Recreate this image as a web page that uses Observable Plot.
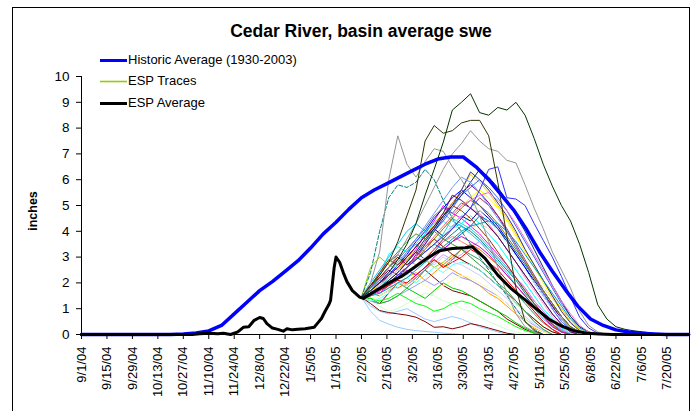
<!DOCTYPE html>
<html><head><meta charset="utf-8">
<script src="https://cdn.jsdelivr.net/npm/d3@7"></script>
<script src="https://cdn.jsdelivr.net/npm/@observablehq/plot@0.6"></script>
<style>
html,body{margin:0;padding:0;background:#fff;overflow:hidden;}
#wrap{position:relative;width:699px;height:411px;font-family:"Liberation Sans",Arial,sans-serif;color:#000;overflow:hidden;}
#border{position:absolute;left:12px;top:7px;width:678px;height:430px;border:1px solid #000;box-sizing:border-box;}
#chart{position:absolute;left:0;top:0;}
#title{position:absolute;left:0;top:21px;width:722px;text-align:center;font-weight:bold;font-size:17.5px;line-height:20px;}
.leg{position:absolute;left:100px;height:16px;font-size:13px;line-height:16px;white-space:nowrap;}
.leg svg{display:inline-block;vertical-align:top;margin-right:1px;}
#ylab{position:absolute;left:33px;top:211px;transform:translate(-50%,-50%) rotate(-90deg);font-weight:bold;font-size:12.5px;white-space:nowrap;}
</style></head>
<body>
<div id="wrap">
  <div id="border"></div>
  <div id="chart"></div>
  <div id="title">Cedar River, basin average swe</div>
  <div class="leg" style="top:52px"><svg width="27" height="16"><line x1="0" x2="27" y1="8.5" y2="8.5" stroke="#0000FF" stroke-width="3"/></svg>Historic Average (1930-2003)</div>
  <div class="leg" style="top:73px"><svg width="27" height="16"><line x1="0" x2="27" y1="8.5" y2="8.5" stroke="#99CC00" stroke-width="1.6"/></svg>ESP Traces</div>
  <div class="leg" style="top:95px"><svg width="27" height="16"><line x1="0" x2="27" y1="8.5" y2="8.5" stroke="#000000" stroke-width="3"/></svg>ESP Average</div>
  <div id="ylab">inches</div>
</div>
<script>
// ---- axis tick labels ----
const xTickLabels = ["9/1/04","9/15/04","9/29/04","10/13/04","10/27/04","11/10/04","11/24/04","12/8/04","12/22/04","1/5/05","1/19/05","2/2/05","2/16/05","3/2/05","3/16/05","3/30/05","4/13/05","4/27/05","5/11/05","5/25/05","6/8/05","6/22/05","7/6/05","7/20/05"];
const yTicks = [0,1,2,3,4,5,6,7,8,9,10];

// ---- Historic average (1930-2003) ----
const histDates = ["9/1/04","10/20/04","10/27/04","11/3/04","11/10/04","11/17/04","11/24/04","12/1/04","12/8/04","12/15/04","12/22/04","12/29/04","1/5/05","1/12/05","1/19/05","1/26/05","2/2/05","2/9/05","2/16/05","2/23/05","3/2/05","3/9/05","3/16/05","3/23/05","3/30/05","4/6/05","4/13/05","4/20/05","4/27/05","5/4/05","5/11/05","5/18/05","5/25/05","6/1/05","6/8/05","6/15/05","6/22/05","6/29/05","7/6/05","7/13/05","7/20/05","8/1/05"];
const histValues = [0,0,0.02,0.06,0.14,0.35,0.8,1.25,1.7,2.05,2.45,2.85,3.35,3.9,4.35,4.85,5.3,5.6,5.85,6.1,6.35,6.6,6.8,6.88,6.88,6.5,6.0,5.4,4.8,4.05,3.2,2.45,1.75,1.1,0.6,0.35,0.18,0.1,0.05,0.02,0,0];

// ---- ESP average (observed through 2/2, then mean of traces) ----
const avgDates = ["9/1/04","11/1/04","11/5/04","11/10/04","11/15/04","11/18/04","11/22/04","11/26/04","11/29/04","12/2/04","12/5/04","12/8/04","12/10/04","12/12/04","12/15/04","12/18/04","12/21/04","12/23/04","12/26/04","12/29/04","1/2/05","1/7/05","1/9/05","1/11/05","1/13/05","1/15/05","1/16/05","1/18/05","1/19/05","1/21/05","1/23/05","1/25/05","1/28/05","2/1/05","2/3/05","2/10/05","2/17/05","2/24/05","3/3/05","3/10/05","3/17/05","3/24/05","3/31/05","4/4/05","4/11/05","4/18/05","4/25/05","5/2/05","5/9/05","5/16/05","5/23/05","5/30/05","6/6/05","6/13/05","6/20/05","8/1/05"];
const avgValues = [0,0,0.03,0.05,0.03,0.05,0,0.1,0.28,0.3,0.55,0.66,0.62,0.42,0.25,0.2,0.13,0.22,0.18,0.2,0.22,0.28,0.45,0.62,0.9,1.15,1.32,2.6,3.0,2.8,2.4,2.05,1.7,1.45,1.4,1.7,2.0,2.25,2.6,2.95,3.25,3.33,3.36,3.4,2.95,2.3,1.8,1.4,1.0,0.6,0.33,0.14,0.05,0.02,0,0];

// ---- ESP traces, sampled every 5 days from 2/2/05 ----
const espDates = ["2/2/05","2/7/05","2/12/05","2/17/05","2/22/05","2/27/05","3/4/05","3/9/05","3/14/05","3/19/05","3/24/05","3/29/05","4/3/05","4/8/05","4/13/05","4/18/05","4/23/05","4/28/05","5/3/05","5/8/05","5/13/05","5/18/05","5/23/05","5/28/05","6/2/05","6/7/05","6/12/05","6/17/05","6/22/05","6/27/05","7/2/05","7/7/05","7/12/05","7/17/05"];
const traceValues = [
 [1.45,2.6,3.0,2.7,2.5,2.9,3.2,2.9,2.6,2.8,3.1,2.9,2.7,2.5,2.2,1.9,1.6,1.2,0.9,0.6,0.3,0.1,0],
 [1.45,1.6,1.9,2.3,2.6,3.0,3.4,3.8,4.1,3.8,4.2,4.6,4.4,4.8,4.5,4.1,3.6,3.1,2.6,2.1,1.6,1.1,0.6,0.25,0.05,0],
 [1.45,1.8,2.4,2.8,3.1,2.8,3.3,3.9,4.4,5.0,4.7,4.5,4.2,3.9,3.5,3.1,2.7,2.2,1.8,1.3,0.9,0.5,0.2,0],
 [1.45,1.5,1.7,1.9,2.2,2.6,3.0,3.4,3.8,4.2,4.6,5.0,5.3,5.6,5.3,4.9,4.4,3.8,3.2,2.6,2.0,1.4,0.9,0.45,0.15,0],
 [1.45,1.9,2.3,3.1,3.4,3.2,3.5,3.9,4.1,4.4,4.1,4.3,4.6,4.3,3.9,3.5,3.0,2.5,2.0,1.5,1.0,0.6,0.25,0.05,0],
 [1.45,1.7,2.1,2.5,2.3,2.6,3.1,3.6,4.1,4.6,5.1,5.5,5.8,5.5,5.1,4.6,4.0,3.4,2.8,2.2,1.6,1.1,0.6,0.25,0.05,0],
 [1.45,1.3,1.2,1.6,2.0,1.9,2.2,2.5,2.2,1.9,1.7,1.6,1.5,1.3,1.1,0.9,0.6,0.4,0.2,0.05,0],
 [1.45,1.6,1.8,2.0,2.3,2.6,3.0,2.8,3.2,3.6,3.9,4.2,4.0,3.7,3.3,2.9,2.5,2.1,1.6,1.2,0.8,0.4,0.15,0],
 [1.45,1.7,2.0,2.3,2.7,3.1,3.6,4.0,4.5,4.9,5.3,5.6,5.3,5.0,4.6,4.2,3.7,3.1,2.6,2.0,1.5,1.0,0.5,0.2,0],
 [1.45,2.0,2.5,3.0,3.5,4.0,4.3,4.0,4.3,4.7,4.4,4.2,3.9,3.6,3.2,2.8,2.4,1.9,1.5,1.0,0.6,0.3,0.1,0],
 [1.45,1.3,1.1,0.9,1.0,1.2,1.4,1.6,1.5,1.3,1.2,1.0,0.9,0.7,0.5,0.35,0.2,0.1,0],
 [1.45,0.9,0.55,0.4,0.28,0.2,0.15,0.12,0.09,0.05,0.03,0],
 [1.45,1.6,1.9,2.2,2.5,2.8,3.2,3.6,3.3,3.7,4.1,4.5,4.9,4.7,4.3,3.8,3.3,2.8,2.2,1.7,1.2,0.7,0.3,0.1,0],
 [1.45,1.5,1.7,1.9,2.1,1.9,2.2,2.5,2.8,3.1,2.9,3.1,3.4,3.6,3.3,3.0,2.6,2.2,1.8,1.3,0.9,0.5,0.2,0],
 [1.45,1.6,1.8,2.1,2.4,2.7,3.0,3.3,3.6,3.4,3.7,3.9,4.1,4.3,4.1,3.9,3.6,3.2,2.8,2.3,1.8,1.4,1.0,0.6,0.3,0.1,0],
 [1.45,1.8,2.1,1.9,2.3,2.6,3.0,3.5,4.0,4.4,4.9,5.4,5.7,6.0,5.7,5.3,4.8,4.2,3.6,3.0,2.4,1.8,1.2,0.7,0.3,0.1,0],
 [1.45,1.6,1.8,2.2,2.7,3.2,3.5,3.2,3.5,3.9,4.5,4.3,4.1,3.8,3.4,3.0,2.6,2.1,1.7,1.2,0.8,0.4,0.15,0],
 [1.45,1.7,1.9,2.2,2.5,2.9,3.4,3.8,4.3,4.7,5.1,5.6,6.2,5.9,5.5,5.0,4.5,3.9,3.3,2.7,2.1,1.5,1.0,0.5,0.2,0],
 [1.45,1.5,1.6,1.8,2.0,2.2,2.4,2.1,2.4,2.7,2.5,2.3,2.1,1.9,1.6,1.4,1.1,0.8,0.5,0.25,0.1,0],
 [1.45,1.8,2.2,2.6,2.9,3.3,3.7,4.1,4.6,4.9,4.7,5.1,4.9,4.6,4.2,3.8,3.3,2.8,2.3,1.8,1.3,0.8,0.4,0.1,0],
 [1.45,1.6,1.5,1.7,2.0,1.8,2.1,2.5,2.9,2.6,2.9,3.3,3.1,2.9,2.6,2.3,2.0,1.6,1.2,0.8,0.45,0.2,0],
 [1.45,1.9,2.4,2.9,2.7,3.0,3.4,3.8,4.2,4.6,5.0,4.8,4.5,4.1,3.7,3.2,2.7,2.2,1.7,1.2,0.8,0.4,0.1,0],
 [1.45,1.6,1.8,2.1,2.4,2.8,3.2,2.9,3.3,3.7,4.1,4.5,4.9,5.3,5.0,4.6,4.1,3.5,2.9,2.3,1.7,1.2,0.7,0.3,0.1,0],
 [1.45,1.5,1.7,1.9,2.2,2.6,3.0,3.5,4.0,4.5,5.0,5.6,6.3,6.0,5.6,5.1,4.6,4.0,3.3,2.7,2.1,1.5,0.9,0.45,0.15,0],
 [1.45,1.3,1.2,1.3,1.5,1.7,1.9,2.1,1.9,2.1,2.4,2.2,2.1,1.9,1.7,1.5,1.2,0.9,0.6,0.35,0.15,0],
 [1.45,1.7,2.0,2.3,2.6,2.9,2.7,3.0,3.3,3.6,3.8,3.6,3.4,3.1,2.8,2.5,2.1,1.7,1.3,0.9,0.5,0.2,0],
 [1.45,1.6,1.8,2.0,2.3,2.6,2.9,3.2,3.5,3.3,3.6,3.9,4.2,4.6,4.4,4.1,3.7,3.2,2.7,2.2,1.7,1.2,0.7,0.3,0.1,0],
 [1.45,1.4,1.3,1.4,1.6,1.4,1.2,1.1,0.9,1.0,1.2,1.3,1.2,1.0,0.85,0.7,0.5,0.3,0.15,0.05,0],
 [1.45,1.6,1.7,1.9,1.8,2.0,2.3,2.6,2.9,2.7,3.0,3.3,3.5,3.3,3.0,2.7,2.3,1.9,1.5,1.1,0.7,0.35,0.1,0],
 [1.45,1.7,2.0,2.3,2.6,3.0,3.4,3.8,4.2,4.7,5.4,5.2,4.9,4.6,4.2,3.8,3.3,2.8,2.3,1.8,1.3,0.8,0.4,0.1,0],
 [1.45,1.9,2.2,2.6,3.0,2.7,3.0,3.4,3.7,3.4,3.1,2.9,2.7,2.5,2.2,1.9,1.6,1.3,0.9,0.6,0.3,0.1,0],
 [1.45,1.1,0.9,0.8,0.9,1.0,0.8,0.6,0.5,0.6,0.7,0.6,0.45,0.3,0.2,0.1,0],
 [1.45,1.2,0.93,0.85,0.8,0.75,0.67,0.5,0.28,0.3,0.22,0.3,0.42,0.35,0.25,0.15,0.05,0],
 [1.45,1.5,1.6,1.8,2.0,2.3,2.6,3.0,3.4,3.8,4.2,4.6,5.0,4.8,4.4,4.0,3.5,3.0,2.5,2.0,1.5,1.0,0.6,0.25,0.05,0],
 [1.45,1.3,1.5,1.7,2.0,1.9,2.1,1.9,1.7,1.9,2.1,2.3,2.2,2.0,1.8,1.5,1.2,0.9,0.6,0.3,0.1,0],
 [1.45,1.6,1.8,2.1,2.4,2.8,3.2,3.7,4.1,4.6,5.0,5.4,5.9,6.4,6.1,5.7,5.2,4.6,4.0,3.3,2.6,1.9,1.3,0.7,0.3,0.1,0],
 [1.45,1.5,1.7,1.9,2.1,2.0,2.3,2.6,2.9,2.6,2.8,3.0,3.3,3.1,2.8,2.5,2.1,1.7,1.3,0.9,0.5,0.2,0],
 [1.45,1.4,1.2,1.3,1.5,1.8,1.6,1.4,1.7,2.0,1.8,1.7,1.5,1.3,1.1,0.9,0.7,0.45,0.25,0.1,0],
 [1.45,1.8,2.1,2.4,2.8,3.2,3.7,4.2,4.7,5.2,5.7,6.1,5.9,5.5,5.0,4.5,4.0,3.4,2.8,2.2,1.6,1.0,0.5,0.2,0],
 [1.45,1.7,1.6,1.9,2.2,2.5,2.3,2.6,3.0,3.3,3.6,3.8,3.6,3.4,3.1,2.7,2.3,1.9,1.5,1.1,0.7,0.3,0.1,0],
 [1.45,1.3,1.4,1.6,1.9,2.2,2.0,2.3,2.6,2.4,2.7,2.8,2.7,2.5,2.2,1.9,1.6,1.2,0.9,0.5,0.2,0],
 [1.45,1.6,1.8,2.0,2.3,2.6,2.9,3.3,3.7,4.1,4.5,4.9,5.2,5.0,4.7,4.3,3.8,3.3,2.8,2.2,1.7,1.2,0.7,0.3,0.1,0],
 [1.45,1.6,1.9,2.2,2.5,2.3,2.6,2.9,2.7,3.0,2.8,2.7,2.5,2.3,2.0,1.7,1.4,1.0,0.7,0.4,0.15,0],
 [1.45,1.8,2.3,2.8,3.2,3.6,3.9,3.7,4.0,3.7,3.5,3.3,3.0,2.7,2.4,2.0,1.7,1.3,0.9,0.5,0.2,0],
 [1.45,1.5,1.7,2.0,2.3,2.6,3.0,3.4,3.8,4.2,4.6,5.0,5.2,5.4,5.5,5.2,4.8,4.3,3.7,3.1,2.5,1.9,1.3,0.8,0.35,0.1,0],
 [1.45,1.5,1.6,1.8,2.0,2.2,2.5,2.8,3.1,3.4,3.7,4.0,4.2,4.3,4.4,4.3,4.0,3.6,3.1,2.6,2.1,1.6,1.1,0.6,0.25,0.05,0],
 // prominent high-snow traces
 [1.45,2.4,4.0,5.3,5.8,5.7,5.9,6.4,6.0,5.2,4.5,4.0,3.5,3.0,2.5,2.0,1.5,1.0,0.5,0.2,0],
 [1.45,2.0,3.2,6.0,7.7,6.6,6.1,6.7,7.2,7.1,6.5,6.0,5.4,4.6,3.6,2.6,1.6,0.8,0.3,0.1,0],
 [1.45,1.7,2.1,2.6,3.1,3.7,4.3,5.0,5.7,6.4,7.0,7.4,7.9,7.5,7.2,7.1,6.75,6.65,5.8,4.9,4.1,3.2,2.5,1.8,0.9,0.35,0.1,0],
 [1.45,1.6,1.8,2.0,2.3,2.6,2.9,3.2,3.5,3.8,4.1,4.5,4.9,5.6,6.4,6.5,5.3,5.25,5.0,4.3,3.65,3.0,2.25,1.45,0.67,0.25,0.05,0],
 [1.45,1.9,2.3,2.8,3.6,4.6,5.6,7.5,8.1,7.8,7.9,8.2,8.3,8.3,7.7,5.9,3.8,1.8,0.5,0.15,0],
 [1.45,1.7,2.0,2.4,2.9,3.5,4.3,5.4,6.4,7.45,8.7,9.0,9.33,8.6,8.5,8.8,8.7,9.0,8.5,7.6,6.6,5.75,5.0,4.4,3.5,2.4,1.15,0.6,0.3,0.2,0.14,0.1,0.05,0]
];
const traceColors = ["#99CC00","#000080","#FF00FF","#FFFF00","#00FFFF","#800080","#800000","#008080","#0000FF","#00CCFF","#CCFFCC","#99CCFF","#FF99CC","#CC99FF","#FFCC99","#3366FF","#33CCCC","#FFCC00","#FF9900","#666699","#339966","#993300","#993366","#333399","#9999FF","#FF8080","#0066CC","#00FF00","#FF6600","#660066","#800000","#99CCFF","#800000","#CCFFFF","#FFFF99","#003366","#FF0000","#00CC00","#6699FF","#CC00CC","#66FFFF","#808000","#CCCCFF","#339933","#FF66CC","#0099CC","#008080","#969696","#969696","#3333FF","#333300","#003300"];
const traceDashed = [14, 46];

const parse = d3.utcParse("%m/%d/%y");
const xTicks = xTickLabels.map(parse);
const labelByTime = new Map(xTicks.map((d, i) => [+d, xTickLabels[i]]));
const espX = espDates.map(parse);

const hist = histDates.map((d, i) => ({date: parse(d), value: histValues[i]}));
const avg = avgDates.map((d, i) => ({date: parse(d), value: avgValues[i]}));

const marks = [];
traceValues.forEach((vals, k) => {
  marks.push(Plot.line(vals.map((v, i) => ({date: espX[i], value: v})), {
    x: "date", y: "value", stroke: traceColors[k], strokeWidth: 1,
    strokeDasharray: traceDashed.includes(k) ? "4,2" : null, strokeLinejoin: "round"
  }));
});
marks.push(Plot.line(hist, {x: "date", y: "value", stroke: "#0000FF", strokeWidth: 3.5, strokeLinejoin: "round"}));
marks.push(Plot.line(avg, {x: "date", y: "value", stroke: "#000000", strokeWidth: 3, strokeLinejoin: "round"}));
marks.push(Plot.ruleY([0], {stroke: "#000", strokeWidth: 1}));
marks.push(Plot.ruleX([parse("9/1/04")], {stroke: "#000", strokeWidth: 1}));
marks.push(Plot.axisX({ticks: xTicks, tickFormat: d => labelByTime.get(+d), tickRotate: -90, tickSize: 5, tickPadding: 7, fontSize: 13, label: null}));
marks.push(Plot.axisY({ticks: yTicks, tickSize: 5, tickPadding: 7, fontSize: 13.5, label: null}));

const chart = Plot.plot({
  width: 699, height: 411,
  marginLeft: 81, marginRight: 9, marginTop: 76, marginBottom: 77,
  style: {fontFamily: '"Liberation Sans", Arial, sans-serif', background: "transparent", color: "#000"},
  x: {type: "utc", domain: [parse("9/1/04"), parse("8/2/05")]},
  y: {domain: [0, 10]},
  marks
});
document.getElementById("chart").appendChild(chart);
</script>
</body></html>
